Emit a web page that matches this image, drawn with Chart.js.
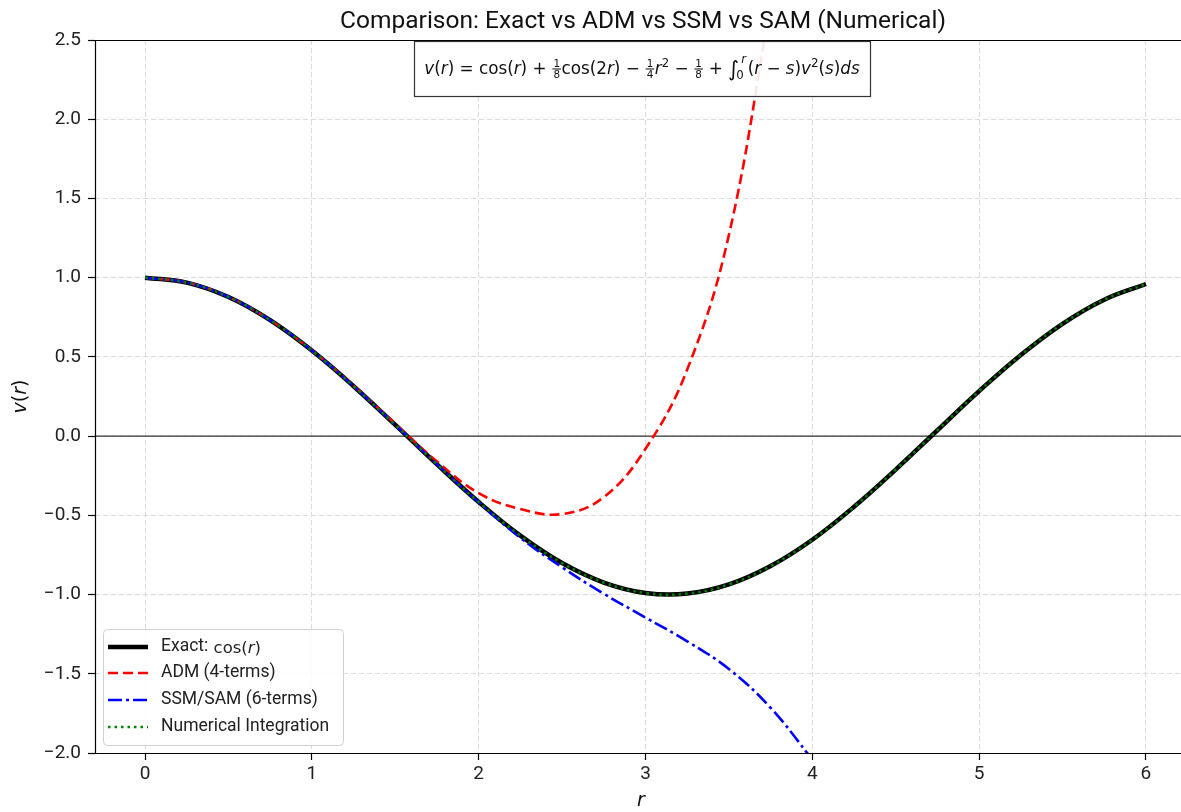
<!DOCTYPE html>
<html>
<head>
<meta charset="utf-8">
<script src="https://cdn.jsdelivr.net/npm/chart.js@4.4.0/dist/chart.umd.min.js"></script>
<style>
  html, body { margin: 0; padding: 0; background: #fff; overflow: hidden; }
</style>
</head>
<body>
<canvas id="cmpChart" width="1200" height="812"></canvas>
<script>
// values
var exactR = [0, 0.25, 0.5, 0.75, 1, 1.25, 1.5, 1.75, 2, 2.25, 2.5, 2.75, 3, 3.25, 3.5, 3.75, 4, 4.25, 4.5, 4.75, 5, 5.25, 5.5, 5.75, 6];
var exactV = [1.000, 0.969, 0.878, 0.732, 0.540, 0.315, 0.071, -0.178, -0.416, -0.628, -0.801, -0.924, -0.990, -0.994, -0.936, -0.820, -0.654, -0.446, -0.211, 0.037, 0.284, 0.512, 0.709, 0.861, 0.960];
var numericalV = [1.000, 0.969, 0.878, 0.732, 0.540, 0.315, 0.071, -0.178, -0.416, -0.628, -0.801, -0.924, -0.990, -0.994, -0.936, -0.820, -0.654, -0.446, -0.211, 0.037, 0.284, 0.512, 0.709, 0.861, 0.960];

var admR = [0, 0.25, 0.5, 0.75, 1, 1.25, 1.5, 1.75, 2, 2.25, 2.5, 2.75, 3, 3.25, 3.5, 3.75];
var admV = [1.000, 0.969, 0.878, 0.732, 0.541, 0.318, 0.078, -0.160, -0.360, -0.460, -0.492, -0.385, -0.080, 0.420, 1.270, 2.730];

var ssmR = [0, 0.25, 0.5, 0.75, 1, 1.25, 1.5, 1.75, 2, 2.25, 2.5, 2.75, 3, 3.25, 3.5, 3.75, 4];
var ssmV = [1.000, 0.969, 0.878, 0.732, 0.540, 0.315, 0.071, -0.178, -0.418, -0.642, -0.828, -0.995, -1.145, -1.295, -1.470, -1.715, -2.040];

var xTicks = [0, 1, 2, 3, 4, 5, 6];
var yTicks = [-2.0, -1.5, -1.0, -0.5, 0.0, 0.5, 1.0, 1.5, 2.0, 2.5];

var seriesNames = ['Exact: ', 'ADM (4-terms)', 'SSM/SAM (6-terms)', 'Numerical Integration'];

var UI_FONT = 'Roboto';
var MATH_FONT = 'DejaVu Sans';

function pairs(xs, ys) {
    return xs.map(function (x, i) { return { x: x, y: ys[i] }; });
}

// tiny mathtext-ish renderer for the formula and labels
function fontOf(size, it) {
    return (it ? 'italic ' : '') + size + 'px "' + MATH_FONT + '"';
}
function partWidth(ctx, p, size) {
    if (p.frac) {
        ctx.font = fontOf(size * 0.62, false);
        return Math.max(ctx.measureText(p.frac[0]).width, ctx.measureText(p.frac[1]).width) + 3;
    }
    if (p.lim) {
        ctx.font = fontOf(size * 0.7, true);
        return Math.max(ctx.measureText(p.lim[0]).width, ctx.measureText(p.lim[1]).width) + 1;
    }
    var s = p.sup ? size * 0.7 : (p.big ? size * 1.25 : size);
    ctx.font = fontOf(s, p.it);
    return ctx.measureText(p.t).width;
}
function mathWidth(ctx, parts, size) {
    var w = 0;
    parts.forEach(function (p) { w += partWidth(ctx, p, size); });
    return w;
}
function drawMath(ctx, parts, x, y, size) {
    ctx.textBaseline = 'alphabetic';
    ctx.textAlign = 'left';
    parts.forEach(function (p) {
        var w = partWidth(ctx, p, size);
        if (p.frac) {
            var fs = size * 0.62;
            ctx.font = fontOf(fs, false);
            var bar = y - size * 0.3;
            var nw = ctx.measureText(p.frac[0]).width;
            var dw = ctx.measureText(p.frac[1]).width;
            ctx.fillText(p.frac[0], x + (w - nw) / 2, bar - 2);
            ctx.fillText(p.frac[1], x + (w - dw) / 2, bar + 1.5 + fs * 0.75);
            ctx.fillRect(x + 0.5, bar - 0.5, w - 1, 1);
        } else if (p.lim) {
            ctx.font = fontOf(size * 0.7, false);
            ctx.fillText(p.lim[0], x - 3, y + size * 0.3);
            ctx.font = fontOf(size * 0.7, true);
            ctx.fillText(p.lim[1], x + 2, y - size * 0.65);
        } else if (p.sup) {
            ctx.font = fontOf(size * 0.7, p.it);
            ctx.fillText(p.t, x, y - size * 0.42);
        } else if (p.big) {
            ctx.font = fontOf(size * 1.25, false);
            ctx.fillText(p.t, x, y + size * 0.12);
        } else {
            ctx.font = fontOf(size, p.it);
            ctx.fillText(p.t, x, y);
        }
        x += w;
    });
}

var formulaParts = [
    { t: 'v', it: true }, { t: '(' }, { t: 'r', it: true }, { t: ') = cos(' }, { t: 'r', it: true }, { t: ') + ' },
    { frac: ['1', '8'] }, { t: 'cos(2' }, { t: 'r', it: true }, { t: ') \u2212 ' },
    { frac: ['1', '4'] }, { t: 'r', it: true }, { t: '2', sup: true }, { t: ' \u2212 ' },
    { frac: ['1', '8'] }, { t: ' + ' }, { t: '\u222B', big: true }, { lim: ['0', 'r'] },
    { t: '(' }, { t: 'r', it: true }, { t: ' \u2212 ' }, { t: 's', it: true }, { t: ')' },
    { t: 'v', it: true }, { t: '2', sup: true }, { t: '(' }, { t: 's', it: true }, { t: ')' },
    { t: 'ds', it: true }
];

var decor = {
    id: 'decor',
    beforeDatasetsDraw: function (chart) {
        var ctx = chart.ctx, a = chart.chartArea;
        var y0 = chart.scales.y.getPixelForValue(0);
        ctx.save();
        ctx.strokeStyle = '#333';
        ctx.lineWidth = 1.3;
        ctx.beginPath();
        ctx.moveTo(a.left, y0);
        ctx.lineTo(a.right, y0);
        ctx.stroke();
        ctx.restore();
    },
    afterDraw: function (chart) {
        var ctx = chart.ctx, a = chart.chartArea;
        var datasets = chart.data.datasets;
        ctx.save();

        // spines (solid)
        ctx.strokeStyle = '#000';
        ctx.lineWidth = 1.2;
        ctx.setLineDash([]);
        ctx.beginPath();
        ctx.moveTo(a.left, a.top + 0.5);
        ctx.lineTo(a.right, a.top + 0.5);
        ctx.moveTo(a.left + 0.5, a.top);
        ctx.lineTo(a.left + 0.5, a.bottom);
        ctx.moveTo(a.left, a.bottom + 0.5);
        ctx.lineTo(a.right, a.bottom + 0.5);
        ctx.stroke();

        // title
        ctx.fillStyle = '#111';
        ctx.font = '24.5px "' + UI_FONT + '"';
        ctx.textAlign = 'center';
        ctx.textBaseline = 'middle';
        ctx.fillText('Comparison: Exact vs ADM vs SSM vs SAM (Numerical)', 643, 22);

        // axis titles
        ctx.fillStyle = '#111';
        var xt = [{ t: 'r', it: true }];
        drawMath(ctx, xt, 641 - mathWidth(ctx, xt, 19) / 2, 806, 19);
        var yt = [{ t: 'v', it: true }, { t: '(' }, { t: 'r', it: true }, { t: ')' }];
        ctx.save();
        ctx.translate(26, (a.top + a.bottom) / 2);
        ctx.rotate(-Math.PI / 2);
        drawMath(ctx, yt, -mathWidth(ctx, yt, 19) / 2, 0, 19);
        ctx.restore();

        // formula box
        var fs = 16.8;
        var fw = mathWidth(ctx, formulaParts, fs);
        var bx = 414, bw = 456, by = 41, bh = 55;
        ctx.fillStyle = 'rgba(255,255,255,0.9)';
        ctx.fillRect(bx, by, bw, bh);
        ctx.strokeStyle = '#333';
        ctx.lineWidth = 1.2;
        ctx.strokeRect(bx + 0.5, by + 0.5, bw, bh);
        ctx.fillStyle = '#111';
        drawMath(ctx, formulaParts, bx + (bw - fw) / 2, 74, fs);

        // legend
        var lx = 103, ly = 629, lw = 240, lh = 116;
        ctx.beginPath();
        ctx.roundRect(lx + 0.5, ly + 0.5, lw, lh, 4);
        ctx.fillStyle = 'rgba(255,255,255,0.85)';
        ctx.fill();
        ctx.strokeStyle = '#d0d0d0';
        ctx.lineWidth = 1;
        ctx.stroke();
        var rows = [647, 673, 700, 727];
        datasets.forEach(function (ds, i) {
            var yy = rows[i];
            ctx.save();
            ctx.strokeStyle = ds.borderColor;
            ctx.lineWidth = ds.borderWidth;
            ctx.setLineDash(ds.borderDash || []);
            ctx.lineCap = 'butt';
            ctx.beginPath();
            ctx.moveTo(108, yy);
            ctx.lineTo(148, yy);
            ctx.stroke();
            ctx.restore();
            ctx.fillStyle = '#222';
            ctx.font = '17.5px "' + UI_FONT + '"';
            ctx.textAlign = 'left';
            ctx.textBaseline = 'middle';
            ctx.fillText(seriesNames[i], 161, yy);
            if (i === 0) {
                var w0 = ctx.measureText(seriesNames[0]).width;
                drawMath(ctx, [{ t: 'cos(' }, { t: 'r', it: true }, { t: ')' }], 161 + w0 + 1, yy + 6, 16.5);
            }
        });
        ctx.restore();
    }
};

var gridOpts = {
    color: '#dadada',
    tickColor: '#000',
    tickLength: 7,
    tickBorderDash: [],
    tickWidth: 1.2
};

var ctx = document.getElementById('cmpChart').getContext('2d');
var cmpChart = new Chart(ctx, {
    type: 'line',
    data: {
        datasets: [{
            label: 'Exact: cos(r)',
            data: pairs(exactR, exactV),
            borderColor: '#000000',
            borderWidth: 4.5,
            order: 4
        }, {
            label: 'ADM (4-terms)',
            data: pairs(admR, admV),
            borderColor: '#ff0000',
            borderWidth: 2.6,
            borderDash: [10, 5],
            order: 3
        }, {
            label: 'SSM/SAM (6-terms)',
            data: pairs(ssmR, ssmV),
            borderColor: '#0000ff',
            borderWidth: 2.6,
            borderDash: [14, 4, 3, 4],
            order: 2
        }, {
            label: 'Numerical Integration',
            data: pairs(exactR, numericalV),
            borderColor: '#008000',
            borderWidth: 2.6,
            borderDash: [2.5, 4],
            order: 1
        }]
    },
    options: {
        responsive: false,
        animation: false,
        devicePixelRatio: 1,
        layout: { padding: { top: 40, right: 4, left: 0, bottom: 0 } },
        elements: {
            point: { radius: 0 },
            line: { tension: 0.4, fill: false, borderCapStyle: 'butt' }
        },
        datasets: { line: { clip: 0 } },
        plugins: {
            legend: { display: false },
            title: { display: false },
            tooltip: { enabled: false }
        },
        scales: {
            x: {
                type: 'linear',
                min: -0.3,
                max: 6.3,
                afterBuildTicks: function (scale) {
                    scale.ticks = xTicks.map(function (v) { return { value: v }; });
                },
                afterFit: function (scale) { scale.height = 59; },
                grid: gridOpts,
                border: { display: false, dash: [5, 3] },
                ticks: {
                    color: '#222',
                    padding: 3,
                    font: { family: UI_FONT, size: 19 },
                    callback: function (v) { return String(v); }
                }
            },
            y: {
                min: -2.0,
                max: 2.5,
                afterBuildTicks: function (scale) {
                    scale.ticks = yTicks.map(function (v) { return { value: v }; });
                },
                afterFit: function (scale) { scale.width = 95; },
                grid: gridOpts,
                border: { display: false, dash: [5, 3] },
                ticks: {
                    color: '#222',
                    padding: 7,
                    font: { family: UI_FONT, size: 19 },
                    callback: function (v) {
                        return (v < 0 ? '\u2212' : '') + Math.abs(v).toFixed(1);
                    }
                }
            }
        }
    },
    plugins: [decor]
});
</script>
</body>
</html>
